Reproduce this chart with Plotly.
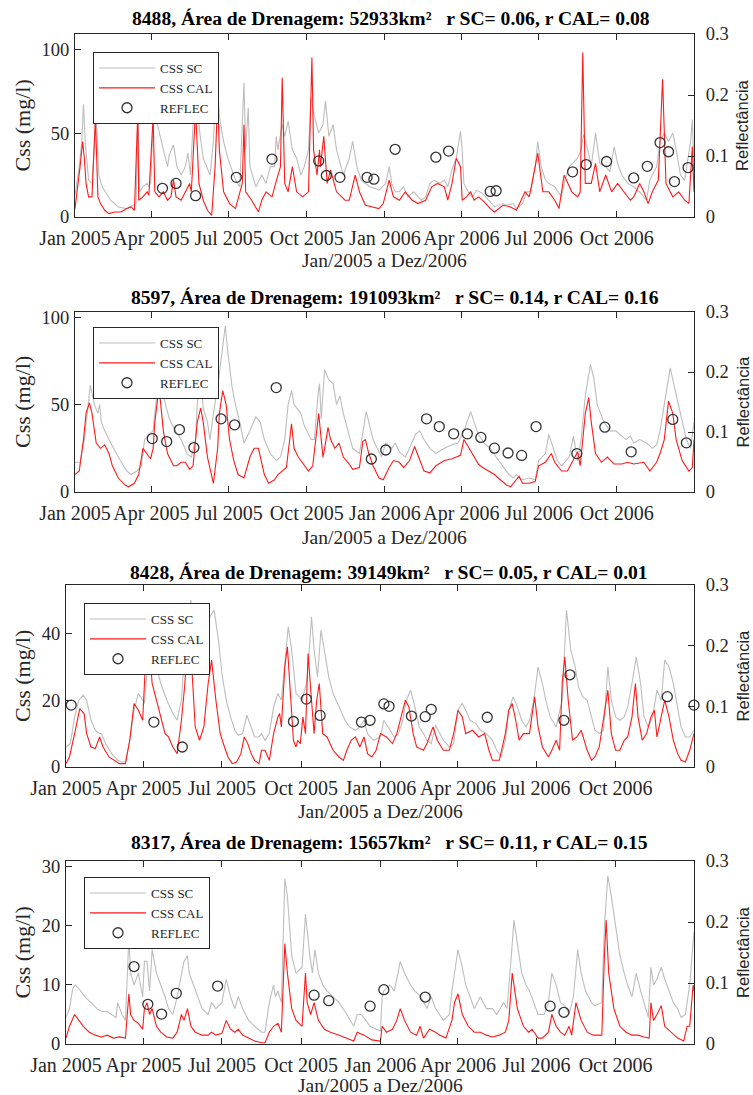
import pandas as pd
import plotly.graph_objects as go

W, H = 753, 1095
START = pd.Timestamp("2005-01-01")

# ---------------- Panel 1: 8488 ----------------
sc1_day = [0,5,8,10,12,16,20,23,25,28, 32,42,51,61,68,72,74,76,80,85, 87,89,92,94,97,101,109,111,116,120,
           125,130,133,136,139,142,147,151,159,163, 167,170,175,180,185,189,194,199,201,204,
           206,213,220,225,230,235,237,239,244,247, 251,256,261,266,270,275,278,282,287,292,
           295,299,304,308,316,323,327,332,337,347, 354,358,366,370,373,377,382,387,392,399,
           404,408,413,418,423,430,435,439,444,449, 454,456,458,463,468,473,480,487,494,504,
           508,516,520,527,532,537,542,545,549,554, 558,565,573,577,582,592,596,599,604,608,
           613,618,625,630,635,639,644,651,658,665, 673,677,685,689,694,699,704,708,713,718,
           725,727,729]
sc1_val = [13,30,45,67,45,22,20,45,60,25, 18,10,6,5,7,8,60,15,18,20, 18,20,55,60,55,47,30,37,43,30,
           25,30,38,25,55,75,50,35,25,45, 89,60,45,35,28,22,18,80,40,65,
           30,18,25,20,30,30,48,40,55,48, 57,40,35,25,30,40,71,60,50,55,
           69,48,55,40,25,35,45,30,22,18, 17,16,20,30,20,15,15,18,12,15,
           12,10,12,20,22,20,22,18,28,35, 51,40,20,15,12,16,14,10,6,8,
           7,8,5,8,15,15,30,45,30,22, 20,18,12,22,30,35,40,49,40,30,
           50,32,30,27,42,32,25,20,18,15, 10,22,30,45,50,45,50,40,25,22,
           45,58,30]
cal1_day = [0,4,6,9,11,13,16,20,24,27, 30,35,40,47,54,61,66,70,74,75, 80,85,87,92,94,99,104,109,113,116,
            119,125,130,135,137,142,146,151,156,161, 165,168,170,175,182,189,197,199,201,208,
            216,220,225,232,239,242,244,247,251,256, 261,268,275,279,281,285,288,289,293,297,
            301,308,318,323,330,335,342,351,358,363, 370,375,382,389,397,404,413,420,427,435,
            439,444,449,454,456,461,466,470,475,482, 489,494,504,513,520,530,535,545,551,558,
            565,570,576,585,592,595,598,601,608,613, 618,625,632,639,646,654,658,665,670,675,
            680,687,692,696,704,711,718,723,727,729]
cal1_val = [5,20,30,45,35,20,12,12,59,12, 8,4,2,3,3,5,6,4,63,10, 12,15,13,60,15,12,15,10,12,22,
            12,10,15,20,15,64,20,10,4,1, 30,70,40,15,8,5,20,55,15,10,
            3,10,15,12,25,30,83,20,15,30, 15,12,15,95,40,25,40,30,48,20,
            28,15,10,10,25,15,7,6,5,8, 22,12,10,15,10,8,10,18,20,18,
            10,20,35,30,10,12,15,10,12,9, 5,3,7,6,4,15,12,38,15,15,
            10,5,25,15,12,15,98,20,20,32, 15,25,15,20,15,10,12,20,15,8,
            15,22,82,20,12,15,10,8,42,15]
refl1_day = [103,119,142,190,232,287,296,312,344,352,377,425,440,489,496,586,602,626,658,674,689,699,706,722]
refl1_val = [0.047,0.055,0.035,0.065,0.095,0.092,0.068,0.065,0.065,0.062,0.111,0.098,0.108,0.042,
             0.043,0.074,0.086,0.091,0.064,0.083,0.122,0.107,0.058,0.081]

# ---------------- Panel 2: 8597 ----------------
sc2_day = [0,6,11,16,18,23,27,29,31,35, 42,51,61,66,73,78,82,87,92,94, 97,99,104,111,118,125,132,137,142,144,
           147,149,151,156,159,163,168,173,177,180, 185,189,194,199,206,213,218,223,230,237,
           242,247,251,255,258,266,270,278,282,286, 288,290,294,299,304,308,312,316,323,327,
           335,339,343,347,351,356,361,366,373,377, 382,389,394,401,406,411,418,425,435,444,
           451,458,466,470,475,482,489,496,504,511, 516,520,523,527,535,542,546,554,558,563,
           568,573,582,587,592,596,601,607,611,615, 623,630,637,644,649,654,658,665,673,680,
           685,689,694,701,706,713,720,725,729]
sc2_val = [17,17,30,55,61,50,45,50,40,35, 28,20,12,10,12,15,30,33,35,45, 60,66,55,42,35,30,22,20,30,50,
           68,60,48,40,30,45,60,80,95,80, 60,50,40,28,35,43,40,30,22,18,
           20,30,50,58,50,45,38,30,30,55, 62,42,70,64,62,50,55,45,33,25,
           22,35,46,38,30,25,20,28,25,28, 23,20,25,33,35,30,25,22,25,27,
           28,35,46,40,33,28,25,20,15,10, 8,10,8,7,8,7,18,22,33,25,
           18,15,20,32,18,30,55,73,65,50, 40,35,35,32,30,32,28,30,28,25,
           27,35,50,71,60,45,30,25,40]
cal2_day = [0,5,10,13,17,20,25,30,35,40, 44,51,59,63,70,75,80,85,89,92, 94,99,104,109,116,120,125,130,135,139,
            144,148,151,156,161,163,168,170,174,178, 182,187,192,199,206,211,216,223,228,235,
            239,249,255,258,263,270,275,280,285,287, 289,292,294,298,301,306,311,316,323,327,
            335,339,342,346,351,358,363,370,375,382, 387,394,400,406,411,418,425,435,444,454,
            458,463,468,475,480,487,494,501,508,513, 518,523,527,535,542,546,554,561,565,573,
            580,587,592,595,598,601,605,608,613,620, 627,635,644,651,658,670,677,685,689,694,
            699,704,708,715,723,727,729]
cal2_val = [10,12,30,45,51,45,28,25,27,22, 15,8,4,3,5,10,25,22,19,25, 40,60,35,22,15,15,17,17,13,15,
            40,48,40,20,10,5,25,45,58,50, 30,18,10,8,20,25,25,10,5,7,
            10,14,39,25,20,15,12,15,35,45, 35,20,25,37,30,25,28,20,16,13,
            14,29,30,22,15,8,7,14,18,17, 14,18,26,18,12,11,15,18,19,21,
            30,26,22,16,14,12,10,7,4,3, 6,9,5,5,6,15,17,22,17,12,
            12,18,23,15,30,45,54,40,22,17, 20,16,16,17,16,17,12,17,22,30,
            52,45,30,18,12,14,30]
refl2_day = [91,108,123,140,172,188,237,349,366,414,429,446,462,478,494,510,526,543,591,624,655,704,720]
refl2_val = [0.089,0.084,0.104,0.074,0.122,0.112,0.174,0.055,0.070,0.122,0.109,0.097,0.097,0.091,
             0.073,0.065,0.061,0.109,0.064,0.108,0.067,0.121,0.082]

# ---------------- Panel 3: 8428 ----------------
sc3_day = [0,5,10,15,20,24,29,34,39,41, 46,53,60,65,69,74,79,84,89,91, 94,98,100,105,110,117,124,129,134,138,
           145,148,153,158,162,167,172,177,181,186, 191,196,200,205,210,215,219,224,227,231,
           236,241,246,250,254,258,262,267,274,279, 281,285,288,292,296,300,305,310,317,324,
           329,336,341,346,350,357,365,369,374,381, 386,391,395,400,405,410,415,419,424,429,
           434,438,445,450,455,460,464,469,476,481, 488,495,500,505,510,514,519,524,529,534,
           538,543,548,553,557,562,569,576,581,586, 591,595,600,605,610,614,619,624,629,633,
           638,643,648,652,657,662,667,671,676,681, 686,691,695,700,705,710,714,719,724,729]
sc3_val = [6,7,15,20,21.5,20,14,11,10,10, 7,4,2,1.5,1.5,8,17,22,20,19, 28,35,38,30,25,20,16,14,20,35,
           50,40,30,28,35,45,47,38,28,20, 15,11,9.5,10,15.5,12,9,9,10,8,
           10,18,22,20,30,42,35,22,20,25, 30,45,35,27,41,35,27,22,18,14,
           12,11,12,14,10,8,9,14,12,9, 10,14,20,23,18,12,10,8,7,12.5,
           10,8,6,7,17,19,17,14,13,11, 10,8,5,3,8,17,21,18,14,12,
           14,20,30,25,20,15,12,20,47,35, 30,24,21,20,15,11,10,11,30,20,
           15,14,15,18,25,33,25,15,12,15, 23,20,32,30,25,18,12,9,9,11]
cal3_day = [0,4,10,16,21,24,29,34,39,43, 50,58,62,69,74,79,84,89,92,94, 97,100,105,110,115,119,124,129,134,138,
            141,146,150,155,160,165,169,174,179,184, 188,193,198,203,207,211,215,219,224,227,
            231,236,241,246,248,250,254,257,260,264, 267,269,272,275,278,281,285,288,291,294,
            298,303,310,317,322,326,331,336,341,346, 350,355,360,365,372,379,384,391,394,398,
            403,407,415,419,426,431,438,445,450,455, 460,464,472,479,486,491,495,503,510,514,
            518,522,526,531,538,544,548,553,560,564, 569,573,576,579,583,588,593,598,605,610,
            614,619,624,629,633,638,643,648,652,657, 661,664,669,674,679,683,686,691,695,700,
            705,710,714,719,724,729]
cal3_val = [1,3,10,17.5,16,10,6,5.5,9,6, 3,1.5,1,1,8,19,17,14,30,28, 35,25,20,15,10,9,6,4,14,25,
            37,30,12,8,12,25,32,20,10,6, 3,1,1.5,4,9,7,4,2,1,5,
            5,2,10,15,16,12,30,36,25,8, 6,8,7,15,10,34,20,10,20,25,
            10,9,5,3,2,5,8,9,6,9, 4,3,5,10,9,7,10,17,20,18,
            10,6,5,7,12,8,5,5,10,17, 15,10,11,9,10,5,2,2,10,17,
            19,14,8,10,10,21,12,6,3,5, 8,5,25,33,20,8,9,11,5,2,
            3,6,14,23,10,5,5,8,9,15, 25,15,8,10,15,17,9,15,20,15,
            8,4,2,1.5,5,10]
refl3_day = [6,102,135,264,279,295,343,353,369,375,401,417,424,489,578,585,698,729]
refl3_val = [0.102,0.074,0.033,0.075,0.112,0.085,0.074,0.077,0.104,0.100,0.084,0.083,0.095,0.082,
             0.077,0.152,0.116,0.102]

# ---------------- Panel 4: 8317 ----------------
sc4_day = [0,4,8,11,17,22,29,36,41,48, 53,58,60,65,69,73,75,79,84,89, 91,94,97,100,105,110,115,119,124,129,
           134,137,141,143,148,153,158,165,169,174, 181,186,191,196,200,205,212,219,227,231,
           236,241,243,246,250,254,257,262,267,274, 278,283,286,289,293,298,303,310,317,326,
           334,338,343,348,353,360,365,367,369,376, 381,384,388,393,400,405,412,419,424,429,
           434,438,445,448,452,455,460,464,469,474, 481,488,495,500,508,512,517,520,524,529,
           534,538,543,548,555,560,564,569,574,579, 584,589,594,598,603,610,614,622,625,629,
           633,638,643,648,652,657,662,667,671,676, 679,682,686,691,695,700,705,710,714,719,
           724,729]
sc4_val = [4.5,6,9.5,10,9,8,7,6,5.5,5.5, 5,4.5,7,5,4,18,12,10,12,8, 14,14,9,16,12,10,8,6,5,8,
           12,14,15,12,10,8,6,5,7,6, 7,11,8,6,8,6,4,3,2,2,
           7,10,8,9,7,28,25,15,12,13, 22,15,12,16,12,10,9,8,7,5,
           3,5,5,4,3,2.5,2.2,8,9,10, 9,11,14,12,10,9,8,6,8,6,
           5,4,5,9,13,16,13,10,8,6, 8,6,6,5,7,6,15,21,17,12,
           10,9,7,5,5,7,12,10,7,6.5, 5,8,16,12,9,7,6.5,7,20,28.5,
           25,20,15,12,10,8,12,9,7,4.5, 13,10,11,13,11,9,7,6,4.5,5,
           10,19]
cal4_day = [0,4,10,15,20,27,34,41,48,55, 62,69,73,75,79,84,89,91,94,97, 100,105,110,117,124,129,134,137,141,145,
            150,158,165,169,174,181,186,191,196,200, 205,212,219,227,231,236,241,246,250,254,
            257,262,267,274,278,280,284,288,293,300, 307,317,326,334,338,346,355,365,367,372,
            379,384,388,393,400,407,411,415,422,429, 434,441,448,451,455,460,467,474,481,488,
            495,503,510,514,518,524,531,537,541,548, 553,560,564,569,574,579,584,587,592,598,
            605,612,619,622,625,627,630,636,643,650, 657,664,671,677,679,682,686,691,695,702,
            710,717,721,724,728,729]
cal4_val = [1,3,5,4,3,2,1.5,1.2,1.5,1, 1.2,1,8.5,5,4,3.5,2.5,6,7,5, 6,3,2,1.2,1,2,5,4,6,3,
            2,1.5,1.5,2,1.5,1.8,4,2.5,2,2.5, 1.5,1,0.5,0.2,0.2,2,3,3.5,2,17,
            12,6,4,3,12,7,5,7,4,2.5, 2,1.5,1,0.5,2,1.5,0.7,0.5,3,2,
            2.5,4,6,4,2,1.5,3,1,2.5,2, 1.5,1,4,7,8.5,5,3,2,2,1.5,
            1.2,1.5,2,4,12,6,3,2,2.5,1, 1,2,5,3,2,1.5,3,1.5,7,4,
            2,1.5,1.5,1.5,15,21,12,6,3,2, 1.5,1.5,1.2,1,7,4,5,6.5,3,2,
            1,0.5,3,3,10,9]
refl4_day = [79,95,111,128,176,288,305,353,369,417,562,578]
refl4_val = [0.127,0.065,0.049,0.083,0.095,0.080,0.071,0.062,0.089,0.077,0.062,0.052]

titles = ["8488, Área de Drenagem: 52933km²   r SC= 0.06, r CAL= 0.08",
          "8597, Área de Drenagem: 191093km²   r SC= 0.14, r CAL= 0.16",
          "8428, Área de Drenagem: 39149km²   r SC= 0.05, r CAL= 0.01",
          "8317, Área de Drenagem: 15657km²   r SC= 0.11, r CAL= 0.15"]
left_ticks = [[0, 50, 100], [0, 50, 100], [0, 20, 40], [0, 10, 20, 30]]
left_max = [109, 103, 54.5, 31]
xtick_dates = ["2005-01-01", "2005-04-01", "2005-07-01", "2005-10-01",
               "2006-01-01", "2006-04-01", "2006-07-01", "2006-10-01"]
xtick_text = ["Jan 2005", "Apr 2005", "Jul 2005", "Oct 2005",
              "Jan 2006", "Apr 2006", "Jul 2006", "Oct 2006"]
xlabel = "Jan/2005 a Dez/2006"

series = [(sc1_day, sc1_val, cal1_day, cal1_val, refl1_day, refl1_val),
          (sc2_day, sc2_val, cal2_day, cal2_val, refl2_day, refl2_val),
          (sc3_day, sc3_val, cal3_day, cal3_val, refl3_day, refl3_val),
          (sc4_day, sc4_val, cal4_day, cal4_val, refl4_day, refl4_val)]

# layout geometry in window pixels: left, right, top, bottom
geom = [(75, 694, 34, 217), (75, 694, 312, 492), (66, 694, 585, 767), (66, 694, 861, 1044)]
legend_pos = [(93, 52), (93, 327), (84, 603), (84, 877)]
title_pos = [(391, 18), (395, 297), (389, 572), (389, 843)]
xlabel_y = [260, 537, 811, 1085]

SERIF = "Liberation Serif, Times New Roman, serif"
SANS = "Liberation Sans, Arial, sans-serif"
AX = "#262626"


def px(x):
    return x / W


def py(y):
    return 1 - y / H


def dates(days):
    return [START + pd.Timedelta(days=int(d)) for d in days]


fig = go.Figure()
layout = dict(width=W, height=H, margin=dict(l=0, r=0, t=0, b=0),
              paper_bgcolor="white", plot_bgcolor="white", showlegend=True)
annotations = []

for i in range(4):
    n = i + 1
    xa = "x" if n == 1 else f"x{n}"
    ya = "y" if n == 1 else f"y{n}"
    yr = f"y{n + 4}"
    lg = "legend" if n == 1 else f"legend{n}"
    scd, scv, cad, cav, rfd, rfv = series[i]
    m = min(len(scd), len(scv))
    fig.add_trace(go.Scatter(x=dates(scd[:m]), y=scv[:m], mode="lines", name="CSS SC",
                             line=dict(color="#bdbdbd", width=1.1), xaxis=xa, yaxis=ya, legend=lg))
    m = min(len(cad), len(cav))
    fig.add_trace(go.Scatter(x=dates(cad[:m]), y=cav[:m], mode="lines", name="CSS CAL",
                             line=dict(color="#ff1a1a", width=1.1), xaxis=xa, yaxis=ya, legend=lg))
    m = min(len(rfd), len(rfv))
    fig.add_trace(go.Scatter(x=dates(rfd[:m]), y=rfv[:m], mode="markers", name="REFLEC",
                             marker=dict(symbol="circle-open", size=10, color="#333333",
                                         line=dict(width=1.3, color="#333333")),
                             cliponaxis=False, xaxis=xa, yaxis=yr, legend=lg))

    l, r, t, b = geom[i]
    xfont = dict(family=SERIF, size=20, color=AX)
    yfont = dict(family=SERIF, size=18.5, color=AX)
    layout["xaxis" if n == 1 else f"xaxis{n}"] = dict(
        domain=[px(l), px(r)], anchor=ya, range=["2005-01-01", "2006-12-31"],
        tickmode="array", tickvals=xtick_dates, ticktext=xtick_text,
        ticks="inside", ticklen=6, tickwidth=1, tickcolor=AX,
        showline=True, linecolor=AX, linewidth=1, mirror="ticks",
        showgrid=False, zeroline=False, tickfont=xfont, ticklabelstandoff=3,
        automargin=False)
    layout["yaxis" if n == 1 else f"yaxis{n}"] = dict(
        domain=[py(b), py(t)], anchor=xa, range=[0, left_max[i]],
        tickmode="array", tickvals=left_ticks[i],
        ticks="inside", ticklen=6, tickwidth=1, tickcolor=AX,
        showline=True, linecolor=AX, linewidth=1, side="left",
        showgrid=False, zeroline=False, tickfont=yfont, ticklabelstandoff=1,
        automargin=False)
    layout[f"yaxis{n + 4}"] = dict(
        overlaying=ya, anchor=xa, side="right", range=[0, 0.3],
        tickmode="array", tickvals=[0, 0.1, 0.2, 0.3], ticktext=["0", "0.1", "0.2", "0.3"],
        ticks="inside", ticklen=6, tickwidth=1, tickcolor=AX,
        showline=True, linecolor=AX, linewidth=1,
        showgrid=False, zeroline=False, tickfont=yfont, ticklabelstandoff=7,
        automargin=False)
    lx, ly = legend_pos[i]
    layout[lg] = dict(x=px(lx), y=py(ly), xanchor="left", yanchor="top",
                      xref="paper", yref="paper",
                      bordercolor=AX, borderwidth=1, bgcolor="white",
                      font=dict(family=SERIF, size=13, color=AX),
                      itemwidth=56, tracegroupgap=0)

    tx, ty = title_pos[i]
    annotations.append(dict(text="<b>" + titles[i].replace("   ", "\u00a0\u00a0\u00a0") + "</b>",
                            x=px(tx), y=py(ty), xref="paper", yref="paper",
                            xanchor="center", yanchor="middle", showarrow=False,
                            font=dict(family=SERIF, size=19.6, color="black")))
    annotations.append(dict(text=xlabel, x=px((l + r) / 2), y=py(xlabel_y[i]),
                            xref="paper", yref="paper", xanchor="center", yanchor="middle",
                            showarrow=False, font=dict(family=SERIF, size=19.5, color=AX)))
    annotations.append(dict(text="Css (mg/l)", x=px(22), y=py((t + b) / 2),
                            xref="paper", yref="paper", xanchor="center", yanchor="middle",
                            textangle=-90, showarrow=False,
                            font=dict(family=SERIF, size=22, color=AX)))
    annotations.append(dict(text="Reflectância", x=px(742.5), y=py((t + b) / 2),
                            xref="paper", yref="paper", xanchor="center", yanchor="middle",
                            textangle=-90, showarrow=False,
                            font=dict(family=SANS, size=16.5, color=AX)))

layout["annotations"] = annotations
fig.update_layout(**layout)
# remove the default 8px page margin so the 753x1095 figure fills the window exactly
fig.write_html("out.html",
               config={"displayModeBar": False},
               post_script="document.body.style.margin='0';"
                           "document.documentElement.style.overflow='hidden';")
